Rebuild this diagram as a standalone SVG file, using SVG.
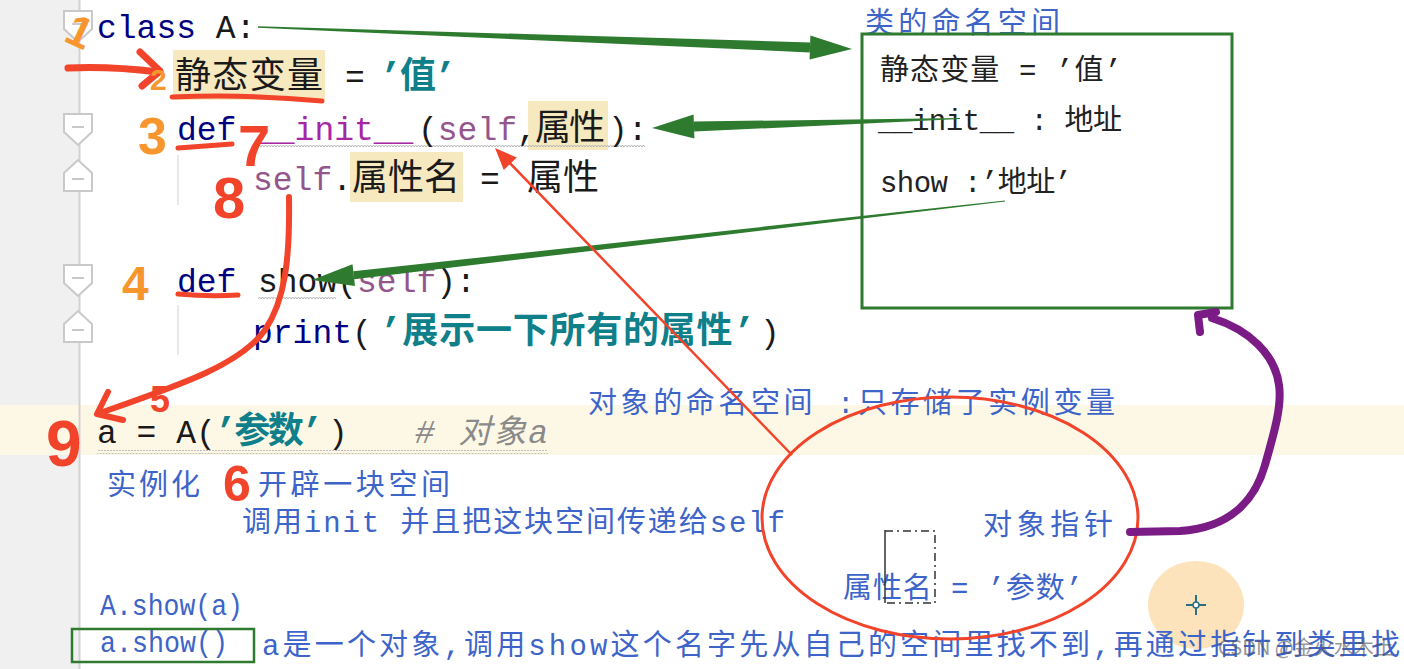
<svg xmlns="http://www.w3.org/2000/svg" width="1404" height="669" viewBox="0 0 1404 669">
<defs>
<style>
.code{font-family:"Liberation Mono","Noto Sans CJK SC",monospace;font-size:33px;fill:#1a1a1a}
.cj{font-size:36px}
.kw{fill:#000080}
.pur{fill:#a626a4}
.slf{fill:#94558d}
.str{fill:#0f7f8a}
.cmt{fill:#8a8a8a;font-style:italic}
.hl{fill:#f6e8bf}
.note{font-family:"Liberation Mono","Noto Sans CJK SC",monospace;font-size:29px;fill:#3d64c8}
.box{font-family:"Liberation Mono","Noto Sans CJK SC",monospace;font-size:29px;fill:#222}
.hand{font-family:"Liberation Sans",sans-serif;font-weight:bold}
.red{fill:#f2432b}
.org{fill:#f7962e}
.fold{fill:#fff;stroke:#c9c9c9;stroke-width:2}
.rs{fill:none;stroke:#f2432b;stroke-linecap:round;stroke-linejoin:round}
.grn{fill:#2e7b30}
</style>
<pattern id="wv" width="6" height="4" patternUnits="userSpaceOnUse">
<path d="M0,3 L1.5,1 L3,3 L4.5,1 L6,3" fill="none" stroke="#b5b5b5" stroke-width="1"/>
</pattern>
<path id="fdown" class="fold" d="M-14,0 H14 V18 L0,31 L-14,18 Z M-6,13 H6"/>
<path id="fup" class="fold" d="M-14,31 H14 V13 L0,0 L-14,13 Z M-6,19 H6"/>
</defs>

<g id="background">
<rect width="1404" height="669" fill="#ffffff"/>
<rect x="0" y="0" width="79" height="669" fill="#f0f0f0"/>
<rect x="0" y="405" width="1404" height="50" fill="#fdf8e6"/>
<line x1="79.5" y1="0" x2="79.5" y2="669" stroke="#d2d2d2" stroke-width="2"/>
<use href="#fdown" transform="translate(78,11)"/>
<use href="#fdown" transform="translate(78,114)"/>
<use href="#fup" transform="translate(78,160)"/>
<use href="#fdown" transform="translate(78,265)"/>
<use href="#fup" transform="translate(78,311)"/>
<line x1="178" y1="155" x2="178" y2="205" stroke="#e2e2e2" stroke-width="1.5"/>
<line x1="178" y1="305" x2="178" y2="355" stroke="#e2e2e2" stroke-width="1.5"/>
</g>

<g id="code">
<rect class="hl" x="173" y="50" width="152" height="50"/>
<rect class="hl" x="528" y="101" width="80" height="49"/>
<rect class="hl" x="350" y="152" width="113" height="50"/>
<rect x="255" y="145" width="390" height="4" fill="url(#wv)"/>
<rect x="258" y="295" width="78" height="4" fill="url(#wv)"/>
<rect x="97" y="450" width="451" height="4" fill="url(#wv)"/>
<text class="code" x="97" y="38"><tspan class="kw">class</tspan> A:</text>
<text class="code cj" x="175" y="88" textLength="148" lengthAdjust="spacing">静态变量</text>
<text class="code" x="345" y="88">=</text>
<text class="code cj str" x="380" y="88" textLength="76" lengthAdjust="spacing" font-weight="bold">’值’</text>
<text class="code kw" x="177" y="140">def</text>
<text class="code pur" x="255" y="140">__init__</text>
<text class="code" x="418" y="140" font-size="30">(<tspan class="slf">self</tspan>,</text>
<text class="code cj" x="535" y="140" textLength="70" lengthAdjust="spacing">属性</text>
<text class="code" x="608" y="140">):</text>
<text class="code slf" x="253" y="190">self<tspan fill="#1a1a1a">.</tspan></text>
<text class="code cj" x="352" y="190" textLength="108" lengthAdjust="spacing">属性名</text>
<text class="code" x="480" y="190">=</text>
<text class="code cj" x="527" y="190" textLength="72" lengthAdjust="spacing">属性</text>
<text class="code kw" x="177" y="292">def</text>
<text class="code" x="258" y="292">show(<tspan class="slf">self</tspan>):</text>
<text class="code" x="253" y="343"><tspan class="kw">print</tspan>(</text>
<text class="code cj str" x="380" y="343" textLength="375" lengthAdjust="spacing" font-weight="bold">’展示一下所有的属性’</text>
<text class="code" x="760" y="343">)</text>
<text class="code" x="97" y="443">a = A(</text>
<text class="code cj str" x="215" y="443" textLength="108" lengthAdjust="spacing" font-weight="bold">’参数’</text>
<text class="code" x="328" y="443">)</text>
<text class="code cmt" x="415" y="443" textLength="133" lengthAdjust="spacing"># 对象a</text>
</g>

<g id="class-namespace">
<text class="note" x="865" y="33" textLength="195" lengthAdjust="spacing">类的命名空间</text>
<rect x="862" y="34" width="370" height="274" fill="none" stroke="#2e7b30" stroke-width="3"/>
<text class="box" x="880" y="80" textLength="242" lengthAdjust="spacing">静态变量 = ’值’</text>
<text class="box" x="878" y="130" textLength="244" lengthAdjust="spacing">__init__ : 地址</text>
<text class="box" x="880" y="192" textLength="192" lengthAdjust="spacing">show :’地址’</text>
</g>

<g id="notes">
<ellipse cx="1196" cy="605" rx="48" ry="44" fill="#fde3bb"/>
<text class="note" x="588" y="413" textLength="527" lengthAdjust="spacing">对象的命名空间 :只存储了实例变量</text>
<text class="note" x="107" y="495" textLength="93" lengthAdjust="spacing">实例化</text>
<text class="note" x="258" y="495" textLength="192" lengthAdjust="spacing">开辟一块空间</text>
<text class="note" x="242" y="532" textLength="543" lengthAdjust="spacing">调用init 并且把这块空间传递给self</text>
<text class="note" x="100" y="615" textLength="143" lengthAdjust="spacingAndGlyphs">A.show(a)</text>
<rect x="72" y="629" width="182" height="33" fill="none" stroke="#2e7b30" stroke-width="2.5"/>
<text class="note" x="100" y="652" textLength="128" lengthAdjust="spacingAndGlyphs">a.show()</text>
<text class="note" x="262" y="655" textLength="1138" lengthAdjust="spacing">a是一个对象,调用show这个名字先从自己的空间里找不到,再通过指针到类里找</text>
<path d="M1186,605 H1206 M1196,595 V615" stroke="#2d6f80" stroke-width="2"/>
<circle cx="1196" cy="605" r="3" fill="#fff" stroke="#2d6f80" stroke-width="1.5"/>
<text x="1218" y="655" font-family="Noto Sans CJK SC, sans-serif" font-size="20" fill="#555" opacity="0.6">CSDN @金火水木土</text>
</g>

<g id="object-namespace">
<ellipse cx="950" cy="518" rx="188" ry="121" fill="none" stroke="#f2432b" stroke-width="3"/>
<text class="note" x="983" y="535" textLength="130" lengthAdjust="spacing">对象指针</text>
<text class="note" x="843" y="598" textLength="240" lengthAdjust="spacing">属性名 = ’参数’</text>
<path d="M885,530 V603" stroke="#333" stroke-width="1.5" fill="none"/>
<path d="M885,531 H935 V603 H885" stroke="#333" stroke-width="1.5" fill="none" stroke-dasharray="8 4 2 4"/>
</g>

<g id="connectors">
<polygon class="grn" points="258,26.3 258,27.7 809.8,52.4 810.2,42.4"/>
<polygon class="grn" points="809.6,59.4 852,49 810.4,35.4"/>
<polygon class="grn" points="960,117.9 960,119.1 694.2,131.6 693.8,121.6"/>
<polygon class="grn" points="694.4,138.6 652,128 693.6,114.6"/>
<polygon class="grn" points="1005,200.5 1005,201.5 354.2,279.2 353.2,271.2"/>
<polygon class="grn" points="355,286.1 312,280 352.5,264.3"/>
<line x1="792" y1="455" x2="505" y2="158" stroke="#f2432b" stroke-width="2.5"/>
<polygon points="516.8,157.5 495,148 503.8,170.1" fill="#f2432b"/>
<path class="rs" d="M68,68 Q110,66 158,72" stroke-width="7"/>
<path class="rs" d="M140,52 L160,71 L142,86" stroke-width="7"/>
<path class="rs" d="M172,97 Q250,94 322,101" stroke-width="5"/>
<path class="rs" d="M178,148 L232,144" stroke-width="5"/>
<path class="rs" d="M178,294 Q210,297 238,295" stroke-width="5"/>
<path class="rs" d="M289,197 C290,260 285,300 265,330 C240,365 180,385 100,413" stroke-width="6"/>
<path class="rs" d="M108,392 L97,414 L123,420" stroke-width="6"/>
<path d="M1130,532 L1180,531 C1230,528 1255,500 1265,465 C1275,430 1282,405 1279,385 C1275,355 1250,330 1212,318" fill="none" stroke="#7a1b86" stroke-width="8" stroke-linecap="round"/>
<path d="M1200,332 L1198,315 L1216,312" fill="none" stroke="#7a1b86" stroke-width="8" stroke-linecap="round" stroke-linejoin="round"/>
</g>

<g id="handwritten">
<text class="hand org" x="68" y="46" font-size="44" transform="rotate(25 78 30)">1</text>
<text class="hand org" x="150" y="90" font-size="30">2</text>
<text class="hand org" x="138" y="154" font-size="52">3</text>
<text class="hand org" x="122" y="300" font-size="48">4</text>
<text class="hand red" x="150" y="412" font-size="36">5</text>
<text class="hand red" x="223" y="501" font-size="50">6</text>
<text class="hand red" x="238" y="166" font-size="58">7</text>
<text class="hand red" x="213" y="218" font-size="58">8</text>
<text class="hand red" x="46" y="466" font-size="64">9</text>
</g>
</svg>
